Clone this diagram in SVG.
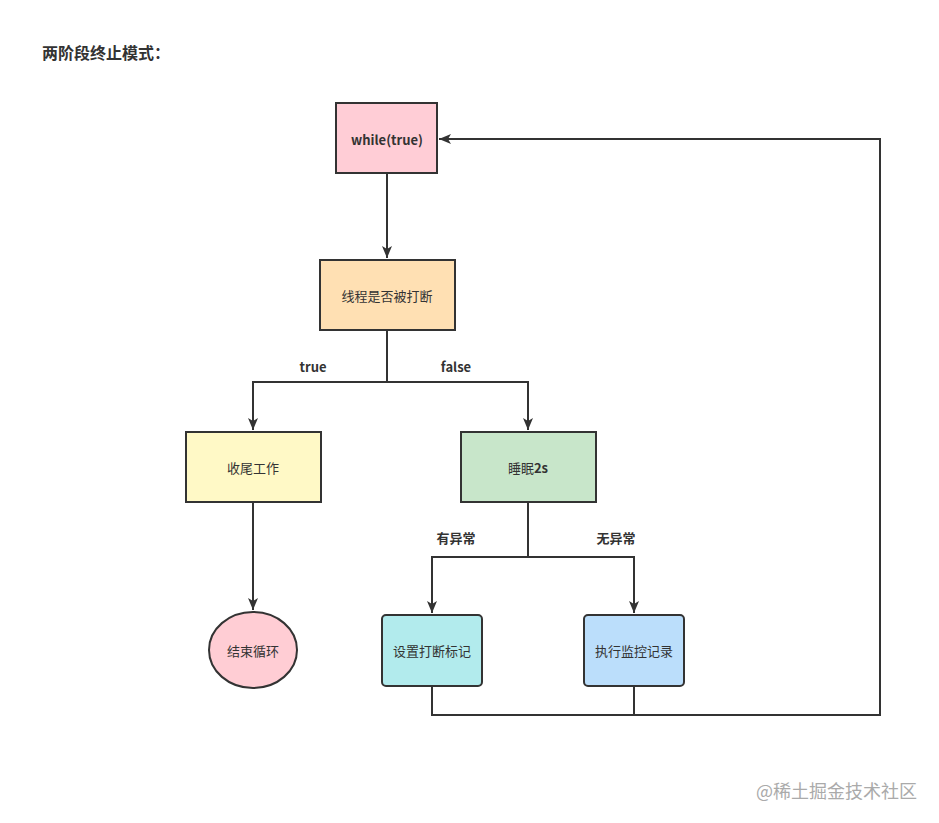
<svg xmlns="http://www.w3.org/2000/svg" width="939" height="823" viewBox="0 0 939 823">
<style>
.box{stroke:#333;stroke-width:2}
.t{font-family:"Noto Sans CJK SC","Liberation Sans",sans-serif;font-size:13px;fill:#333;text-anchor:middle;dominant-baseline:central}
.b{font-weight:bold}
.c{fill:none;stroke:#333;stroke-width:2}
</style>
<defs>
<marker id="ah" markerWidth="12" markerHeight="10" refX="12" refY="5" orient="auto" markerUnits="userSpaceOnUse">
<path d="M0,0 L12,5 L0,10 L3,5 Z" fill="#333"/>
</marker>
</defs>
<rect width="939" height="823" fill="#fff"/>
<text x="42" y="52" font-family="Noto Sans CJK SC,Liberation Sans,sans-serif" font-size="16" font-weight="bold" fill="#333" dominant-baseline="central">两阶段终止模式：</text>
<g id="connectors">
<path class="c" d="M387,173 V258" marker-end="url(#ah)"/>
<path class="c" d="M387,330 V382 H253 V430" marker-end="url(#ah)"/>
<path class="c" d="M387,382 H528 V430" marker-end="url(#ah)"/>
<path class="c" d="M253,502 V610" marker-end="url(#ah)"/>
<path class="c" d="M528,502 V557 H432 V613" marker-end="url(#ah)"/>
<path class="c" d="M528,557 H634 V613" marker-end="url(#ah)"/>
<path class="c" d="M432,686 V715 H880 V139 H439" marker-end="url(#ah)"/>
<path class="c" d="M634,686 V715"/>
<text class="t b" x="313" y="366">true</text>
<text class="t b" x="456" y="366">false</text>
<text class="t b" x="456" y="537">有异常</text>
<text class="t b" x="616" y="537">无异常</text>
</g>
<g id="n-while">
<rect class="box" x="336" y="103" width="101" height="70" fill="#ffcdd6"/>
<text class="t b" x="387" y="139">while(true)</text>
</g>
<g id="n-check">
<rect class="box" x="320" y="260" width="135" height="70" fill="#ffe0b3"/>
<text class="t" x="387" y="295">线程是否被打断</text>
</g>
<g id="n-finish">
<rect class="box" x="186" y="432" width="135" height="70" fill="#fff9c6"/>
<text class="t" x="253" y="467">收尾工作</text>
</g>
<g id="n-sleep">
<rect class="box" x="461" y="432" width="135" height="70" fill="#c8e6ca"/>
<text class="t" x="528" y="467">睡眠<tspan font-weight="bold">2s</tspan></text>
</g>
<g id="n-end">
<ellipse class="box" cx="253" cy="650" rx="44" ry="38" fill="#ffcdd4"/>
<text class="t" x="253" y="650">结束循环</text>
</g>
<g id="n-flag">
<rect class="box" x="382" y="615" width="100" height="71" rx="4" fill="#b2ebed"/>
<text class="t" x="432" y="650">设置打断标记</text>
</g>
<g id="n-monitor">
<rect class="box" x="584" y="615" width="100" height="71" rx="4" fill="#bbdefb"/>
<text class="t" x="634" y="650">执行监控记录</text>
</g>
<text x="917" y="790" font-family="Noto Sans CJK SC,Liberation Sans,sans-serif" font-size="18" fill="#aaa" text-anchor="end" dominant-baseline="central">@稀土掘金技术社区</text>
</svg>
